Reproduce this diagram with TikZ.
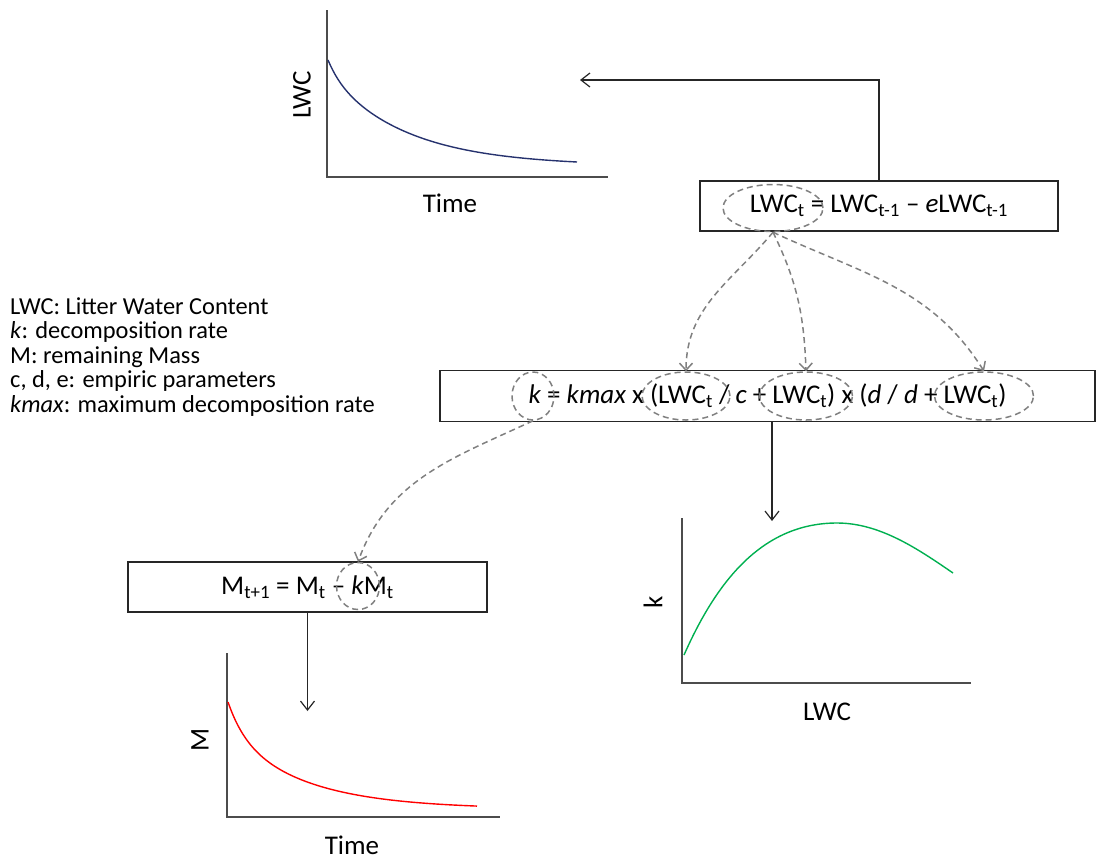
\documentclass[tikz,border=0pt]{standalone}
\usepackage{fontspec}
\setmainfont{Carlito}
\usetikzlibrary{arrows.meta,shapes.geometric}
\definecolor{lwcblue}{RGB}{38,50,110}
\definecolor{kgreen}{RGB}{0,176,80}
\definecolor{mred}{RGB}{255,0,0}
\newcommand{\sbt}[1]{\textsubscript{#1}}
\begin{document}
\begin{tikzpicture}[x=1pt,y=1pt,
 big/.style={font=\fontsize{27}{32}\selectfont},
 eqbox/.style={draw=black!85,line width=1.2pt,inner sep=0pt,minimum height=50pt,big},
 hl/.style={ellipse,draw=black!50,dash pattern=on 6pt off 4pt,line width=1.5pt,inner sep=0pt},
 dasharrow/.style={draw=black!50,line width=1.5pt,dash pattern=on 6pt off 4pt,-{Straight Barb[length=7pt,width=13pt]}},
 solidarrow/.style={draw=black!85,line width=1.2pt,-{Straight Barb[length=9pt,width=14pt]}},
 axis/.style={draw=black!70,line width=1.3pt},
 curve/.style={line width=1.4pt},
 legend/.style={anchor=base west,inner sep=0pt,font=\fontsize{24.4}{24.5}\selectfont},
 lbl/.style={inner sep=0pt,big}
]
\useasboundingbox (0,0) rectangle (1097,-860);

% equation boxes
\node[eqbox,minimum width=358pt] (b1) at (879,-206) {LWC\sbt{t} = LWC\sbt{t-1} – \textit{e}LWC\sbt{t-1}};
\node[eqbox,minimum width=655pt,minimum height=51pt] (b2) at (767.5,-396) {\textit{k} = \textit{kmax} x (LWC\sbt{t} / \textit{c} + LWC\sbt{t}) x (\textit{d} / \textit{d} + LWC\sbt{t})};
\node[eqbox,minimum width=359pt] (b3) at (307.5,-587) {M\sbt{t+1} = M\sbt{t} – \textit{k}M\sbt{t}};

% highlight ellipses
\node[hl,minimum width=100pt,minimum height=47pt] (e1) at (773,-208) {};
\node[hl,minimum width=42pt,minimum height=48pt] (ek) at (533,-396) {};
\node[hl,minimum width=88pt,minimum height=48pt] (e2) at (686,-396) {};
\node[hl,minimum width=93pt,minimum height=48pt] (e3) at (806,-396) {};
\node[hl,minimum width=99pt,minimum height=48pt] (e4) at (984,-396) {};
\node[hl,minimum width=43pt,minimum height=47pt] (em) at (358,-586) {};

% dashed arrows
\draw[dasharrow] (e1.south) to[out=-130,in=90] (e2.north);
\draw[dasharrow] (e1.south) to[out=-64,in=92] (e3.north);
\draw[dasharrow] (e1.south) to[out=-25,in=122] (e4.north);
\draw[dasharrow] (ek.south) to[out=205,in=70] (em.north);

% solid arrows
\coordinate (lwcin) at (580,-80);
\draw[solidarrow] (b1.north) |- (lwcin);
\coordinate (kin) at (772,-521);
\draw[solidarrow] (b2.south -| kin) -- (kin);
\coordinate (min) at (307.5,-711);
\draw[solidarrow] (b3.south) -- (min);

% top graph (LWC vs time)
\draw[axis] (327,-10) |- (608,-177);
\draw[curve,lwcblue] plot[domain=0:249,samples=100] ({328+\x},{-(166-106*(0.15*exp(-0.08*\x)+0.85*exp(-0.0125*\x)))});
\node[lbl,rotate=90] (y1) at (302,-95) {LWC};
\node[lbl] (t1) at (450,-203) {Time};

% k graph
\draw[axis] (682,-518) |- (971,-683);
\draw[curve,kgreen] (684,-655) .. controls (715,-585) and (760,-523) .. (837,-523)
  .. controls (880,-523) and (918,-549) .. (953,-573);
\node[lbl,rotate=90] (y2) at (653,-602) {k};
\node[lbl] (x2) at (827,-712) {LWC};

% M graph
\draw[axis] (227,-653) |- (500,-817);
\draw[curve,mred] plot[domain=0:249,samples=100] ({228+\x},{-(809-107*(0.3*exp(-0.06*\x)+0.7*exp(-0.013*\x)))});
\node[lbl,rotate=90] (y3) at (200,-740) {M};
\node[lbl] (t3) at (352,-845) {Time};

% legend
\node[legend] (l1) at (10,-314) {LWC: Litter Water Content};
\node[legend] (l2) at (10,-338.5) {\textit{k}: decomposition rate};
\node[legend] (l3) at (10,-363) {M: remaining Mass};
\node[legend] (l4) at (10,-387.5) {c, d, e: empiric parameters};
\node[legend] (l5) at (10,-412) {\textit{kmax}: maximum decomposition rate};
\end{tikzpicture}
\end{document}
